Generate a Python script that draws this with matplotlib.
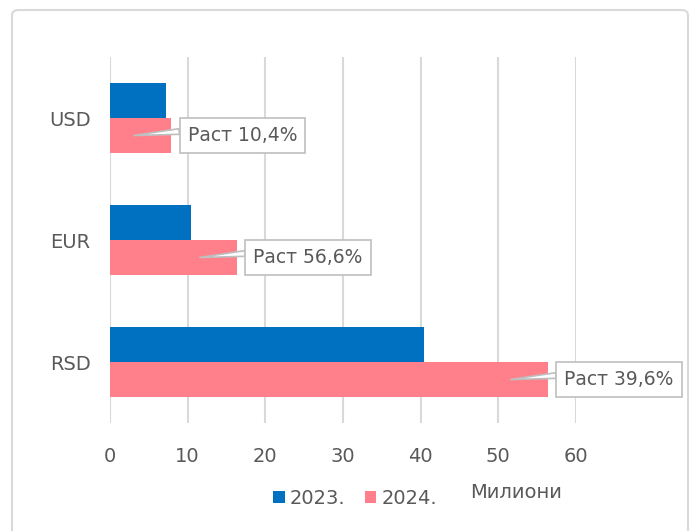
import matplotlib.pyplot as plt
from matplotlib.patches import FancyBboxPatch
import numpy as np

plt.rcParams['font.family'] = ['Liberation Sans Narrow', 'DejaVu Sans Condensed', 'DejaVu Sans']

# data (millions)
currencies = ['RSD', 'EUR', 'USD']          # bottom -> top
values_2023 = [40.4, 10.45, 7.15]
values_2024 = [56.4, 16.35, 7.9]
growth_labels = ['Раст 39,6%', 'Раст 56,6%', 'Раст 10,4%']
series_names = ['2023.', '2024.']

blue = '#0070C0'
pink = '#FF808B'
grey_text = '#595959'

fig = plt.figure(figsize=(6.92, 5.31), dpi=100)
ax = fig.add_axes([110 / 692, 1 - 423 / 531, (576 - 110) / 692, (423 - 57) / 531])

# outer chart frame
frame = FancyBboxPatch((12 / 692, -0.05), 676 / 692, 1 - 10 / 531 + 0.05,
                       boxstyle='round,pad=0,rounding_size=0.01',
                       transform=fig.transFigure, fc='none', ec='#d9d9d9', lw=1.5,
                       clip_on=False)
fig.patches.append(frame)

y = np.arange(len(currencies))
h = 0.287
b1 = ax.barh(y + h / 2, values_2023, height=h, color=blue, label=series_names[0], zorder=2)
b2 = ax.barh(y - h / 2, values_2024, height=h, color=pink, label=series_names[1], zorder=2)

ax.set_xlim(0, 60)
ax.set_ylim(-0.5, len(currencies) - 0.5)
ax.set_xticks(range(0, 61, 10))
ax.set_yticks(y)
ax.set_yticklabels(currencies)
ax.grid(axis='x', color='#d9d9d9', lw=1.5, zorder=0)
ax.set_axisbelow(True)
for s in ax.spines.values():
    s.set_visible(False)
ax.tick_params(axis='x', length=0, pad=17, labelsize=14, labelcolor=grey_text)
ax.tick_params(axis='y', length=0, pad=14, labelsize=14, labelcolor=grey_text)

# growth callouts
for yi, v, lab in zip(y, values_2024, growth_labels):
    ax.annotate(lab, xy=(v - 4.8, yi - h / 2), xytext=(v + 2.1, yi - h / 2),
                textcoords='data', ha='left', va='center', fontsize=13.5, color=grey_text,
                bbox=dict(boxstyle='square,pad=0.42', fc='white', ec='#bfbfbf', lw=1.2),
                arrowprops=dict(arrowstyle='wedge,tail_width=0.3', fc='white', ec='#bfbfbf',
                                lw=1.2, relpos=(0.0, 0.75), shrinkA=0, shrinkB=0),
                zorder=5)

fig.legend(handles=[b1, b2], loc='center', bbox_to_anchor=(0.513, 0.062), ncol=2,
           frameon=False, fontsize=14, labelcolor=grey_text, handlelength=0.6,
           handleheight=0.6, handletextpad=0.25, columnspacing=1.0)
fig.text(516 / 692, 1 - 493 / 531, 'Милиони', ha='center', va='center', fontsize=14,
         color=grey_text)

fig.savefig('out.png', dpi=100)
